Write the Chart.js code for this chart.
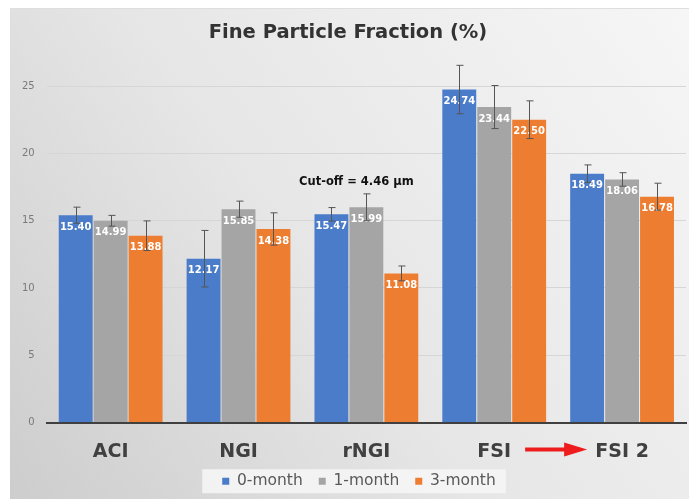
<!DOCTYPE html>
<html>
<head>
<meta charset="utf-8">
<script src="https://cdn.jsdelivr.net/npm/chart.js@4"></script>
<style>
  html, body { margin: 0; padding: 0; background: #fff; }
  #wrap { width: 689px; height: 499px; }
</style>
</head>
<body>
<div id="wrap"><canvas id="fpf"></canvas></div>
<script>
// chart values
var categories = ["ACI", "NGI", "rNGI", "FSI", "FSI 2"];
var seriesNames = ["0-month", "1-month", "3-month"];
var month0 = [15.40, 12.17, 15.47, 24.74, 18.49];
var month1 = [14.99, 15.85, 15.99, 23.44, 18.06];
var month3 = [13.88, 14.38, 11.08, 22.50, 16.78];
var err0 = [0.6, 2.1, 0.5, 1.8, 0.65];
var err1 = [0.4, 0.6, 1.0, 1.6, 0.5];
var err3 = [1.1, 1.2, 0.55, 1.4, 1.0];
var yTicks = [0, 5, 10, 15, 20, 25];

var errors = [err0, err1, err3];
var colors = ["#4a7cc9", "#a5a5a5", "#ed7d31"];
var FONT = "'DejaVu Sans'";

// background panel + legend box
var panelPlugin = {
  id: "panel",
  afterLayout: function (chart) {
    // legend sits a little right of centre in the original
    var lg = chart.legend;
    if (lg) { lg.left += 11; lg.right += 11; }
  },
  beforeDraw: function (chart) {
    var c = chart.ctx;
    c.save();
    c.fillStyle = "#ffffff";
    c.fillRect(0, 0, chart.width, chart.height);
    var g = c.createLinearGradient(chart.width, 8, 10, chart.height);
    g.addColorStop(0, "#f6f6f6");
    g.addColorStop(0.55, "#e6e6e6");
    g.addColorStop(1, "#cdcdcd");
    c.fillStyle = g;
    c.fillRect(10, 8, chart.width - 10, chart.height - 8);
    c.strokeStyle = "#dedede";
    c.beginPath();
    c.moveTo(10, 8.5);
    c.lineTo(chart.width, 8.5);
    c.stroke();

    var lg = chart.legend;
    if (lg && lg.legendHitBoxes && lg.legendHitBoxes.length) {
      var hb = lg.legendHitBoxes;
      var l = hb[0].left - 20;
      var r = hb[hb.length - 1].left + hb[hb.length - 1].width + 10;
      var cy = hb[0].top + hb[0].height / 2;
      c.fillStyle = "rgba(245,245,245,0.9)";
      c.fillRect(l, cy - 12, r - l, 24);
    }
    c.restore();
  }
};

// value labels, error bars, annotation and arrow
var markPlugin = {
  id: "marks",
  afterDatasetsDraw: function (chart) {
    var c = chart.ctx;
    var ys = chart.scales.y;
    var xs = chart.scales.x;
    c.save();
    chart.data.datasets.forEach(function (ds, di) {
      var meta = chart.getDatasetMeta(di);
      meta.data.forEach(function (bar, i) {
        c.fillStyle = "#ffffff";
        c.font = "bold 10px " + FONT;
        c.textAlign = "center";
        c.textBaseline = "middle";
        c.fillText(ds.data[i].toFixed(2), bar.x, bar.y + 12);
      });
    });
    c.strokeStyle = "#555555";
    c.lineWidth = 1;
    chart.data.datasets.forEach(function (ds, di) {
      var meta = chart.getDatasetMeta(di);
      meta.data.forEach(function (bar, i) {
        var v = ds.data[i];
        var e = errors[di][i];
        var top = ys.getPixelForValue(v + e);
        var bot = ys.getPixelForValue(v - e);
        var x = Math.round(bar.x) + 0.5;
        c.beginPath();
        c.moveTo(x, top);
        c.lineTo(x, bot);
        c.moveTo(x - 3, top);
        c.lineTo(x + 4, top);
        c.moveTo(x - 3, bot);
        c.lineTo(x + 4, bot);
        c.stroke();
      });
    });

    c.fillStyle = "#111111";
    c.font = "bold 11.5px " + FONT;
    c.textAlign = "center";
    c.textBaseline = "middle";
    c.fillText("Cut-off = 4.46 \u00b5m", xs.getPixelForValue(2) - 10, ys.getPixelForValue(17.9));

    // red arrow between FSI and FSI 2
    var mid = (xs.getPixelForValue(3) + xs.getPixelForValue(4)) / 2 - 2;
    var ay = ys.bottom + 27;
    c.fillStyle = "#ee1c1c";
    c.fillRect(mid - 31, ay - 2, 42, 4);
    c.beginPath();
    c.moveTo(mid + 8, ay - 7);
    c.lineTo(mid + 31, ay);
    c.lineTo(mid + 8, ay + 7);
    c.closePath();
    c.fill();
    c.restore();
  }
};

var ctx = document.getElementById("fpf");
var data = {
  labels: categories,
  datasets: [month0, month1, month3].map(function (vals, k) {
    return {
      label: seriesNames[k],
      data: vals,
      backgroundColor: colors[k],
      categoryPercentage: 0.82,
      barPercentage: 0.97
    };
  })
};

var fpfChart = new Chart(ctx, {
  type: "bar",
  data: data,
  plugins: [panelPlugin, markPlugin],
  options: {
    responsive: true,
    maintainAspectRatio: false,
    animation: false,
    layout: { padding: { top: 12, left: 10, right: 3, bottom: 0 } },
    plugins: {
      title: {
        display: true,
        text: "Fine Particle Fraction (%)",
        color: "#333333",
        font: { family: FONT, size: 19.5, weight: "bold" },
        padding: { top: 9, bottom: 8 }
      },
      legend: {
        position: "bottom",
        labels: {
          boxWidth: 7,
          boxHeight: 7,
          padding: 16,
          color: "#595959",
          font: { family: FONT, size: 15.5 }
        }
      },
      tooltip: { enabled: false }
    },
    scales: {
      x: {
        grid: { display: false, drawTicks: false },
        border: { display: true, color: "#404040", width: 2 },
        afterFit: function (scale) { scale.height = 35; },
        ticks: {
          color: "#404040",
          padding: 18,
          font: { family: FONT, size: 19, weight: "bold" }
        }
      },
      y: {
        min: 0,
        max: 27.5,
        afterBuildTicks: function (scale) {
          scale.ticks = yTicks.map(function (v) { return { value: v }; });
        },
        border: { display: false },
        grid: { color: "#d6d6d6", drawTicks: false },
        ticks: {
          color: "#7a7a7a",
          padding: 12,
          font: { family: FONT, size: 10 }
        }
      }
    }
  }
});
</script>
</body>
</html>
